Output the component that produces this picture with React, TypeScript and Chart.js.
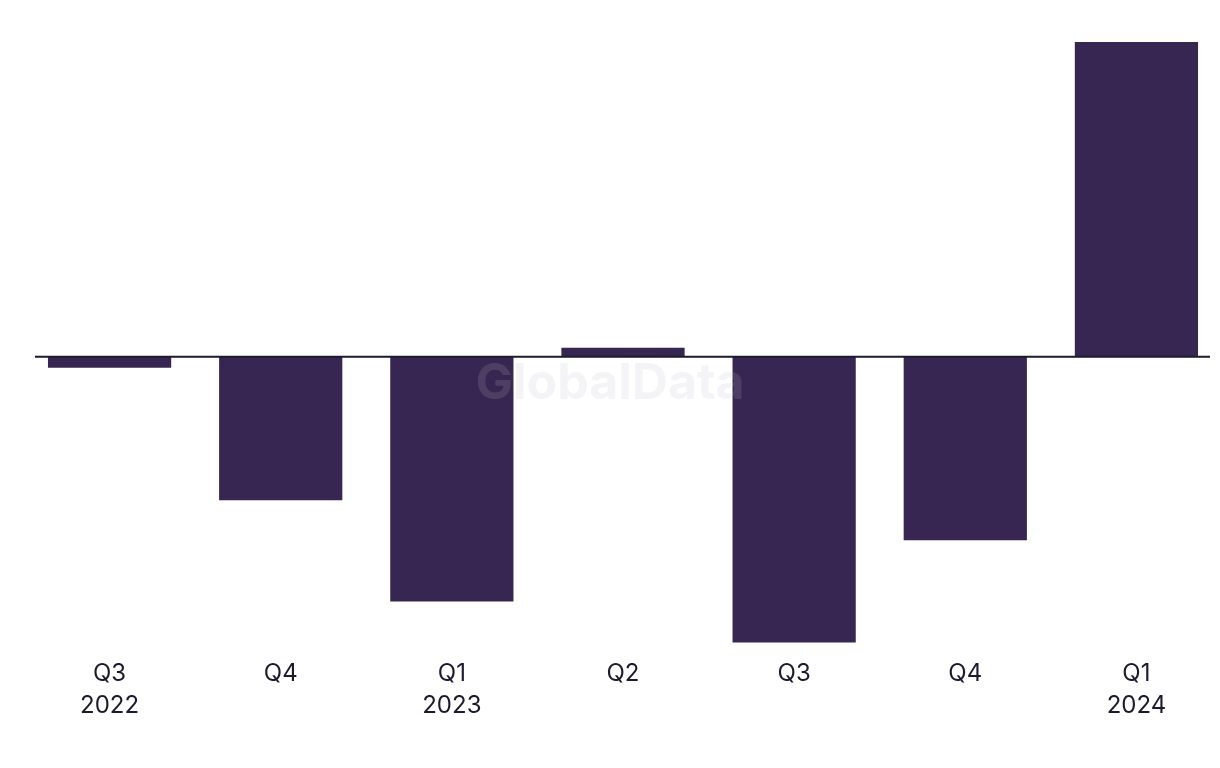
import React, { useEffect, useRef } from "react";
import { Chart, registerables } from "chart.js";

Chart.register(...registerables);

const quarters = ["Q3", "Q4", "Q1", "Q2", "Q3", "Q4", "Q1"];
const years = ["2022", "", "2023", "", "", "", "2024"];
const values = [-1.1, -14.3, -24.4, 0.9, -28.5, -18.3, 31.4];

const BAR = "#372651";
const INK = "#1c1a2e";

const extras = {
  id: "extras",
  beforeDatasetsDraw(chart: any) {
    const { ctx } = chart;
    ctx.save();
    ctx.font = "bold 50px Inter, 'Noto Sans', sans-serif";
    ctx.fillStyle = "rgba(225,225,232,0.35)";
    ctx.textAlign = "center";
    ctx.textBaseline = "middle";
    ctx.fillText("GlobalData", 610, 384);
    ctx.restore();
  },
  afterDatasetsDraw(chart: any) {
    const { ctx, chartArea, scales } = chart;
    const y = scales.y.getPixelForValue(0);
    ctx.save();
    ctx.strokeStyle = INK;
    ctx.lineWidth = 2;
    ctx.beginPath();
    ctx.moveTo(chartArea.left + 11, y);
    ctx.lineTo(chartArea.right - 12, y);
    ctx.stroke();
    ctx.font = "bold 50px Inter, 'Noto Sans', sans-serif";
    ctx.fillStyle = "rgba(235,235,240,0.12)";
    ctx.textAlign = "center";
    ctx.textBaseline = "middle";
    ctx.fillText("GlobalData", 610, 384);
    ctx.restore();
  },
};

export default function App() {
  const ref = useRef<HTMLCanvasElement>(null);
  useEffect(() => {
    document.body.style.margin = "0";
    document.body.style.overflow = "hidden";
    const chart = new Chart(ref.current!, {
      type: "bar",
      data: {
        labels: quarters.map((q, i) => (years[i] ? [q, years[i]] : q)),
        datasets: [
          {
            data: values,
            backgroundColor: BAR,
            barPercentage: 0.9,
            categoryPercentage: 0.8,
          },
        ],
      },
      options: {
        animation: false,
        responsive: false,
        maintainAspectRatio: false,
        layout: { padding: { left: 24, right: 18, top: 26, bottom: 46 } },
        plugins: { legend: { display: false }, tooltip: { enabled: false } },
        scales: {
          x: {
            grid: { display: false, drawTicks: false },
            border: { display: false },
            ticks: {
              color: INK,
              padding: 1,
              maxRotation: 0,
              font: { family: "Inter, 'Noto Sans', sans-serif", size: 24, lineHeight: 1.3 },
            },
          },
          y: {
            display: false,
            min: -30,
            max: 33,
          },
        },
      },
      plugins: [extras],
    });
    return () => chart.destroy();
  }, []);
  return (
    <div style={{ width: 1220, height: 768, overflow: "hidden" }}>
      <canvas ref={ref} width={1240} height={768} style={{ display: "block" }} />
    </div>
  );
}
